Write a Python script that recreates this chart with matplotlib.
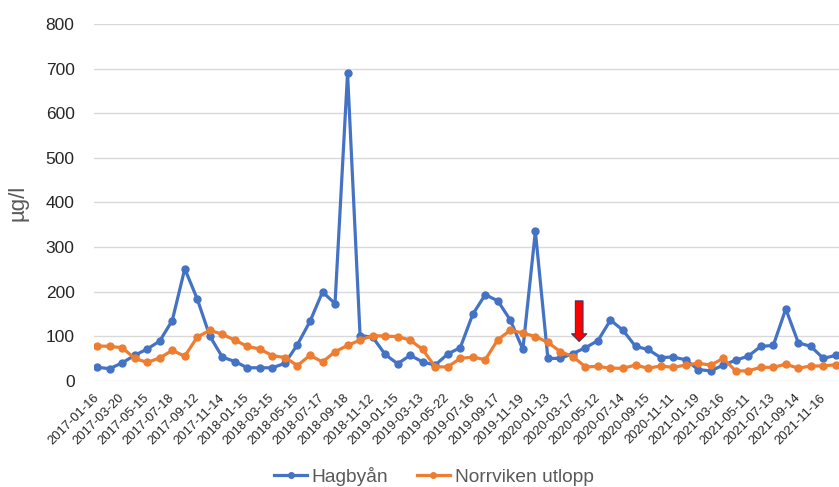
import numpy as np
import matplotlib
matplotlib.use('Agg')
from matplotlib import pyplot as plt
from matplotlib.patches import FancyArrowPatch

plt.rcParams['font.family'] = ['Liberation Sans', 'DejaVu Sans']

# every second sampling date is printed on the axis
tick_dates = ['2017-01-16', '2017-03-20', '2017-05-15', '2017-07-18', '2017-09-12',
              '2017-11-14', '2018-01-15', '2018-03-15', '2018-05-15', '2018-07-17',
              '2018-09-18', '2018-11-12', '2019-01-15', '2019-03-13', '2019-05-22',
              '2019-07-16', '2019-09-17', '2019-11-19', '2020-01-13', '2020-03-17',
              '2020-05-12', '2020-07-14', '2020-09-15', '2020-11-11', '2021-01-19',
              '2021-03-16', '2021-05-11', '2021-07-13', '2021-09-14', '2021-11-16']

# monthly samples, µg/l
hagbyan = [30, 27, 40, 57, 71, 89, 135, 251, 183, 100,
           53, 43, 29, 29, 29, 39, 81, 133, 199, 173,
           690, 101, 98, 59, 38, 57, 42, 35, 60, 74,
           149, 193, 179, 136, 70, 335, 50, 50, 61, 74,
           90, 136, 113, 77, 70, 52, 53, 47, 25, 22,
           35, 46, 55, 77, 79, 161, 85, 77, 50, 57]

norrviken = [78, 77, 74, 50, 41, 51, 68, 55, 98, 113,
             104, 91, 77, 71, 56, 52, 34, 57, 42, 65,
             79, 91, 101, 100, 99, 91, 70, 31, 31, 50,
             53, 47, 92, 113, 107, 99, 86, 65, 54, 31,
             32, 28, 28, 35, 28, 33, 30, 35, 39, 35,
             50, 22, 22, 30, 30, 37, 28, 33, 33, 36]

# marker for the change, drawn between two samples
arrow_x = 38.5
arrow_top, arrow_tip = 179, 88

x = np.arange(len(hagbyan))

fig = plt.figure(figsize=(8.39, 4.87), dpi=100)
ax = fig.add_axes([94 / 839, 1 - 380.7 / 487, 1 - 94 / 839, (380.7 - 24) / 487])

ax.plot(x, hagbyan, color='#4472C4', lw=2.3, marker='o', ms=5, label='Hagbyån', zorder=3)
ax.plot(x, norrviken, color='#ED7D31', lw=2.3, marker='o', ms=5, label='Norrviken utlopp', zorder=3)

arrow = FancyArrowPatch((arrow_x, arrow_top), (arrow_x, arrow_tip),
                        arrowstyle='simple,head_length=0.55,head_width=1.1,tail_width=0.55',
                        mutation_scale=10, facecolor='#FF0000', edgecolor='#2F3B5C',
                        lw=0.8, shrinkA=0, shrinkB=0, zorder=4)
ax.add_patch(arrow)

ax.set_xlim(-0.25, 59.25)
ax.set_ylim(0, 800)
ax.set_yticks(np.arange(0, 801, 100))
ax.set_xticks(x[::2])
ax.set_xticklabels(tick_dates, rotation=45, ha='right', va='center',
                   rotation_mode='anchor', fontsize=9.3, color='#262626')
ax.tick_params(axis='x', length=0, pad=11)
ax.tick_params(axis='y', length=0, pad=14, labelsize=12.5, labelcolor='#262626')

ax.grid(axis='y', color='#D9D9D9', lw=1)
ax.set_axisbelow(True)
for s in ax.spines.values():
    s.set_visible(False)

fig.text(18 / 839, 1 - 203 / 487, 'µg/l', rotation=90, ha='center', va='center',
         fontsize=16, color='#595959')

fig.legend(loc='center', bbox_to_anchor=(434 / 839, 1 - 476 / 487), ncol=2,
           frameon=False, fontsize=13.8, labelcolor='#595959', handlelength=1.7,
           handletextpad=0.25, columnspacing=1.5, markerscale=0.8)

fig.savefig('out.png', dpi=100)
